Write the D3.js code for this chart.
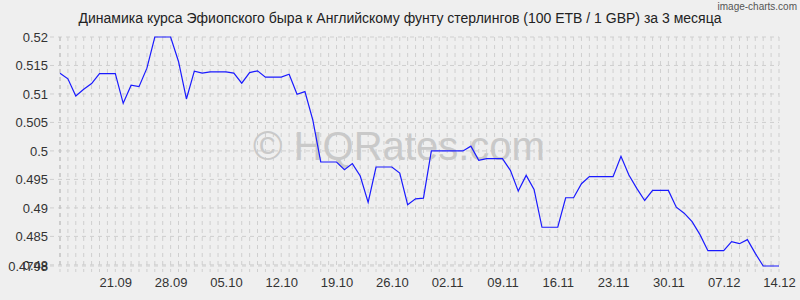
<!DOCTYPE html>
<html>
<head>
<meta charset="utf-8">
<script src="https://cdn.jsdelivr.net/npm/d3@7"></script>
<style>
  body { margin: 0; background: #efefef; }
  svg { display: block; font-family: "Liberation Sans", Arial, sans-serif; }
</style>
</head>
<body>
<svg id="chart" width="800" height="300"></svg>
<script>
// daily rates, 14.09 .. 14.12
var startDate = "14.09.2025";
var rates = [
	0.51365, 0.51265, 0.50965, 0.51083, 0.51182, 0.51358, 0.51358, 0.51358, 0.50836, 0.51153,
	0.51129, 0.51453, 0.52000, 0.52000, 0.52000, 0.51570, 0.50912, 0.51400, 0.51365, 0.51388,
	0.51388, 0.51388, 0.51365, 0.51189, 0.51376, 0.51406, 0.51295, 0.51295, 0.51295, 0.51347,
	0.50995, 0.51041, 0.50541, 0.49806, 0.49806, 0.49806, 0.49672, 0.49778, 0.49559, 0.49095,
	0.49718, 0.49718, 0.49718, 0.49612, 0.49055, 0.49160, 0.49171, 0.50000, 0.50000, 0.50000,
	0.50000, 0.50000, 0.50083, 0.49836, 0.49866, 0.49866, 0.49866, 0.49660, 0.49295, 0.49571,
	0.49325, 0.48660, 0.48660, 0.48660, 0.49178, 0.49178, 0.49425, 0.49549, 0.49549, 0.49549,
	0.49549, 0.49907, 0.49577, 0.49342, 0.49130, 0.49307, 0.49307, 0.49307, 0.49012, 0.48907,
	0.48760, 0.48531, 0.48249, 0.48249, 0.48249, 0.48407, 0.48372, 0.48443, 0.48201, 0.47980,
	0.47980, 0.47980
];
var yTicks = [0.52, 0.515, 0.51, 0.505, 0.5, 0.495, 0.49, 0.485, 0.48, 0.4798];
var xLabels = ["21.09", "28.09", "05.10", "12.10", "19.10", "26.10", "02.11", "09.11", "16.11", "23.11", "30.11", "07.12", "14.12"];

var title = "Динамика курса Эфиопского быра к Английскому фунту стерлингов (100 ETB / 1 GBP) за 3 месяца";

var svg = d3.select("#chart"),
	margin = {top: 37, left: 60, bottom: 34, right: 21},
	width = +svg.attr("width"),
	height = +svg.attr("height");

var parse = d3.timeParse("%d.%m.%Y");
var t0 = parse(startDate);
var data = rates.map((v, i) => ({date: d3.timeDay.offset(t0, i), value: v}));
var days = data.map(d => d.date);

var x = d3.scaleTime()
	.domain(d3.extent(days))
	.range([margin.left, width - margin.right]);

var y = d3.scaleLinear()
	.domain(d3.extent(rates))
	.range([height - margin.bottom, margin.top]);

var grid = "#cfcfcf";

// vertical daily grid
svg.append("g")
	.selectAll("line")
	.data(days)
	.enter().append("line")
	.attr("x1", d => x(d)).attr("x2", d => x(d))
	.attr("y1", margin.top).attr("y2", height - margin.bottom + 6)
	.attr("stroke", grid)
	.attr("stroke-dasharray", "4,4");

// horizontal grid
svg.append("g")
	.selectAll("line")
	.data(yTicks)
	.enter().append("line")
	.attr("x1", margin.left - 10).attr("x2", width - margin.right)
	.attr("y1", d => y(d)).attr("y2", d => y(d))
	.attr("stroke", grid)
	.attr("stroke-dasharray", "4,4");

// watermark
svg.append("text")
	.attr("x", 399)
	.attr("y", 160)
	.attr("text-anchor", "middle")
	.style("font-size", "40px")
	.attr("fill", "#c9c9c9")
	.text("© HQRates.com");

// y labels
var yAxis = svg.append("g")
	.attr("transform", `translate(${margin.left},0)`)
	.call(d3.axisLeft(y).tickValues(yTicks).tickFormat(d => String(d)).tickSize(0).tickPadding(12));
yAxis.select(".domain").remove();
yAxis.selectAll("text").style("font-size", "13px").attr("fill", "#333");

// x labels
var xAxis = svg.append("g")
	.attr("transform", `translate(0,${height - margin.bottom})`)
	.call(d3.axisBottom(x)
		.tickValues(xLabels.map(s => parse(s + ".2025")))
		.tickFormat(d3.timeFormat("%d.%m"))
		.tickSize(0).tickPadding(12));
xAxis.select(".domain").remove();
xAxis.selectAll("text").style("font-size", "13px").attr("fill", "#333");

// left axis line
svg.append("line")
	.attr("x1", margin.left).attr("x2", margin.left)
	.attr("y1", margin.top).attr("y2", height - margin.bottom)
	.attr("stroke", "#bbb")
	.attr("stroke-dasharray", "4,4");

var line = d3.line()
	.x(d => x(d.date))
	.y(d => y(d.value));

svg.append("path")
	.datum(data)
	.attr("fill", "none")
	.attr("stroke", "#1a1aff")
	.attr("stroke-width", 1.2)
	.attr("d", line);

svg.append("text")
	.attr("x", 400)
	.attr("y", 23)
	.attr("text-anchor", "middle")
	.style("font-size", "14px")
	.attr("fill", "#222")
	.text(title);

svg.append("text")
	.attr("x", 797)
	.attr("y", 10)
	.attr("text-anchor", "end")
	.style("font-size", "10px")
	.style("font-stretch", "condensed")
	.attr("fill", "#555")
	.text("image-charts.com");
</script>
</body>
</html>
